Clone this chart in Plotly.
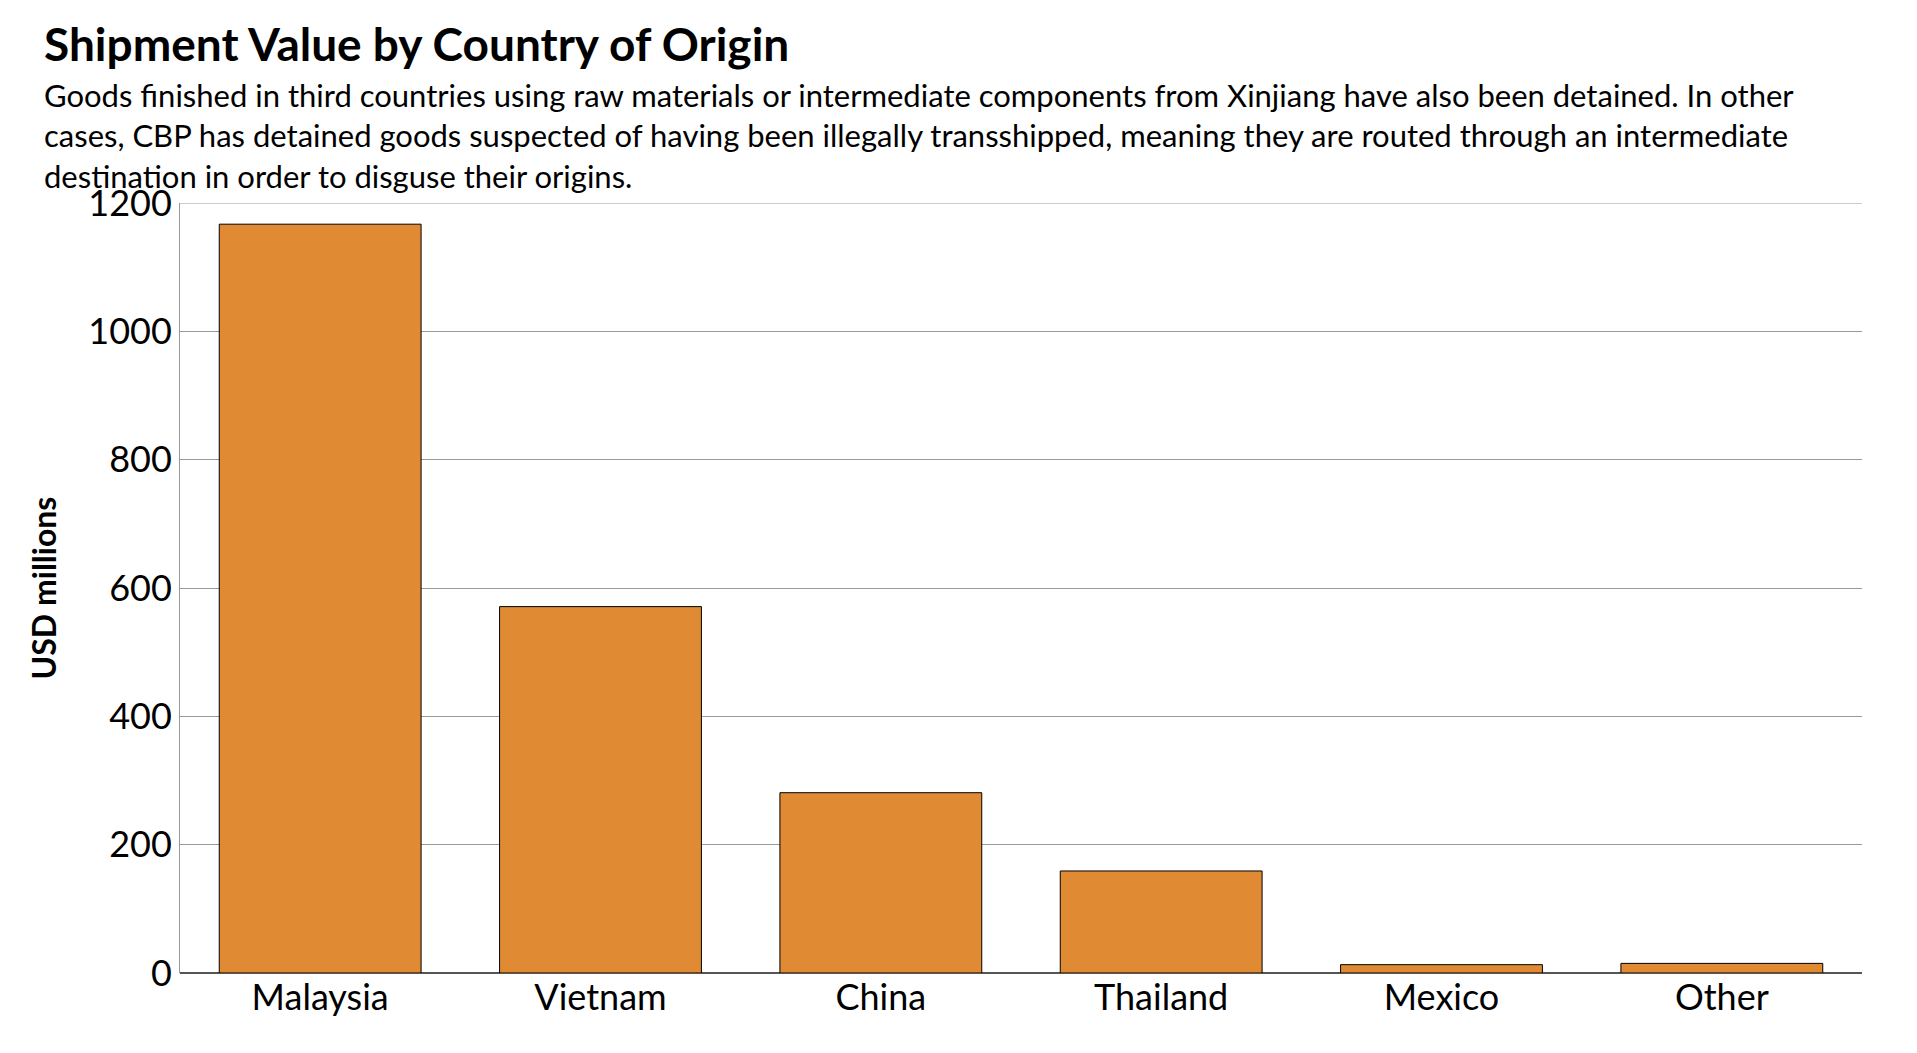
import plotly.graph_objects as go

countries = ["Malaysia", "Vietnam", "China", "Thailand", "Mexico", "Other"]
values = [1167, 571, 281, 159, 13, 15]
yticks = [0, 200, 400, 600, 800, 1000, 1200]

title = "Shipment Value by Country of Origin"
subtitle = ("Goods finished in third countries using raw materials or intermediate components from Xinjiang have also been detained. In other<br>"
            "cases, CBP has detained goods suspected of having been illegally transshipped, meaning they are routed through an intermediate<br>"
            "destination in order to disguse their origins.")

F = "Lato, 'Open Sans', sans-serif"
L, R, T, B = 172, 63, 195, 88
PW, PH = 1917 - L - R, 1053 - T - B
fig = go.Figure(go.Bar(x=countries, y=values, width=0.72,
                       marker=dict(color="#E08B33", line=dict(color="#000", width=1))))
fig.update_layout(
    width=1917, height=1053, plot_bgcolor="white", paper_bgcolor="white",
    margin=dict(l=L, r=R, t=T, b=B), showlegend=False,
    font=dict(family=F, color="#000"),
)
fig.add_annotation(text="<b>" + title + "</b>", xref="paper", yref="paper", x=(34 - L) / PW, y=1 + (T - 6) / PH,
                   xanchor="left", yanchor="top", showarrow=False, font=dict(size=46, family=F))
fig.add_annotation(text=subtitle, xref="paper", yref="paper", x=(34 - L) / PW, y=1 + (T - 66) / PH,
                   xanchor="left", yanchor="top", showarrow=False, align="left",
                   font=dict(size=31, family=F))
fig.update_yaxes(range=[0, 1200], tickvals=yticks, showgrid=True, gridcolor="#999", gridwidth=1,
                 tickfont=dict(size=36), showline=True, linecolor="#999", linewidth=1, mirror=False,
                 zeroline=True, zerolinecolor="#555", zerolinewidth=2,
                 title=dict(text="<b>USD millions</b>", font=dict(size=32), standoff=22), ticks="")
fig.update_xaxes(tickfont=dict(size=36), ticks="", showline=False)
fig.add_hline(y=1200, line=dict(color="#999", width=1))
fig.write_html("out.html")
